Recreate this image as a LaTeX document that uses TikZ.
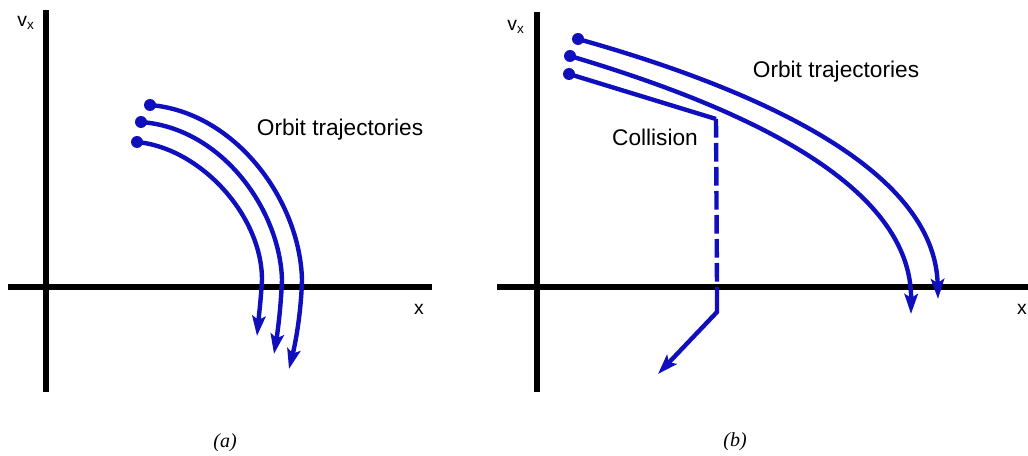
\documentclass[tikz,border=0pt]{standalone}
\usepackage{fontspec}
\setmainfont{Liberation Sans}
\newfontfamily\capfont{Liberation Serif}
\usetikzlibrary{arrows.meta}
\definecolor{orbit}{RGB}{15,15,190}
\tikzset{
  axisline/.style={line width=3.9pt,black},
  orbitline/.style={line width=3.3pt,orbit,-{Stealth[length=15pt,width=10pt,inset=3pt]}},
  collline/.style={line width=3.3pt,orbit},
  startdot/.style={circle,fill=orbit,inner sep=0pt,minimum size=9pt},
  lbl/.style={font=\fontsize{17}{20}\selectfont,inner sep=0pt},
  axlbl/.style={font=\fontsize{14.5}{16}\selectfont,inner sep=0pt},
  caplbl/.style={font=\capfont\itshape\fontsize{15}{17}\selectfont,inner sep=0pt}
}
\begin{document}
\begin{tikzpicture}[x=0.75pt,y=-0.75pt]
\useasboundingbox (0,0) rectangle (1028,456);
% ---------- panel (a) ----------
\coordinate (aT) at (46,10);
\coordinate (aB) at (46,392);
\coordinate (aL) at (8,287);
\coordinate (aR) at (432,287);
\draw[axisline] (aT) -- (aB);
\draw[axisline] (aL) -- (aR);
\node[axlbl] (avx) at (26,23) {v\textsubscript{x}};
\node[axlbl] (ax) at (419,309) {x};
\node[startdot] (a1) at (150,105) {};
\node[startdot] (a2) at (141,122) {};
\node[startdot] (a3) at (137,142) {};
\coordinate (a1e) at (289,369);
\coordinate (a2e) at (274,354);
\coordinate (a3e) at (257,336);
\draw[orbitline] (a1.center) .. controls (235,112) and (300,200) .. (302,280) .. controls (301,315) and (295,345) .. (a1e);
\draw[orbitline] (a2.center) .. controls (222,128) and (280,210) .. (282,280) .. controls (281,305) and (278,330) .. (a2e);
\draw[orbitline] (a3.center) .. controls (200,148) and (262,215) .. (262,280) .. controls (261,298) and (259,315) .. (a3e);
\node[lbl] (aorb) at (340,130) {Orbit trajectories};
\node[caplbl] (acap) at (225,443) {(a)};
% ---------- panel (b) ----------
\coordinate (bT) at (537,12);
\coordinate (bB) at (537,392);
\coordinate (bL) at (497,287);
\coordinate (bR) at (1028,287);
\draw[axisline] (bT) -- (bB);
\draw[axisline] (bL) -- (bR);
\node[axlbl] (bvx) at (516,27) {v\textsubscript{x}};
\node[axlbl] (bx) at (1022,309) {x};
\node[startdot] (b1) at (578,39) {};
\node[startdot] (b2) at (570,56) {};
\node[startdot] (b3) at (569,74) {};
\coordinate (b1e) at (938,299);
\coordinate (b2e) at (911,314);
\draw[orbitline] (b1.center) .. controls (760,90) and (935,170) .. (b1e);
\draw[orbitline] (b2.center) .. controls (745,108) and (912,185) .. (b2e);
\coordinate (bc) at (716,119);
\coordinate (bx0) at (717,287);
\coordinate (bk) at (717,312);
\coordinate (be) at (658,374);
\draw[collline,line join=miter] (b3.center) -- (bc);
\draw[collline,dashed,dash pattern=on 14pt off 4pt] (bc) -- (bx0);
\draw[collline,line join=miter,-{Stealth[length=15pt,width=10pt,inset=3pt]}] (bx0) -- (bk) -- (be);
\node[lbl] (borb) at (836,72) {Orbit trajectories};
\node[lbl] (bcol) at (655,137) {Collision};
\node[caplbl] (bcap) at (735,442) {(b)};
\end{tikzpicture}
\end{document}
